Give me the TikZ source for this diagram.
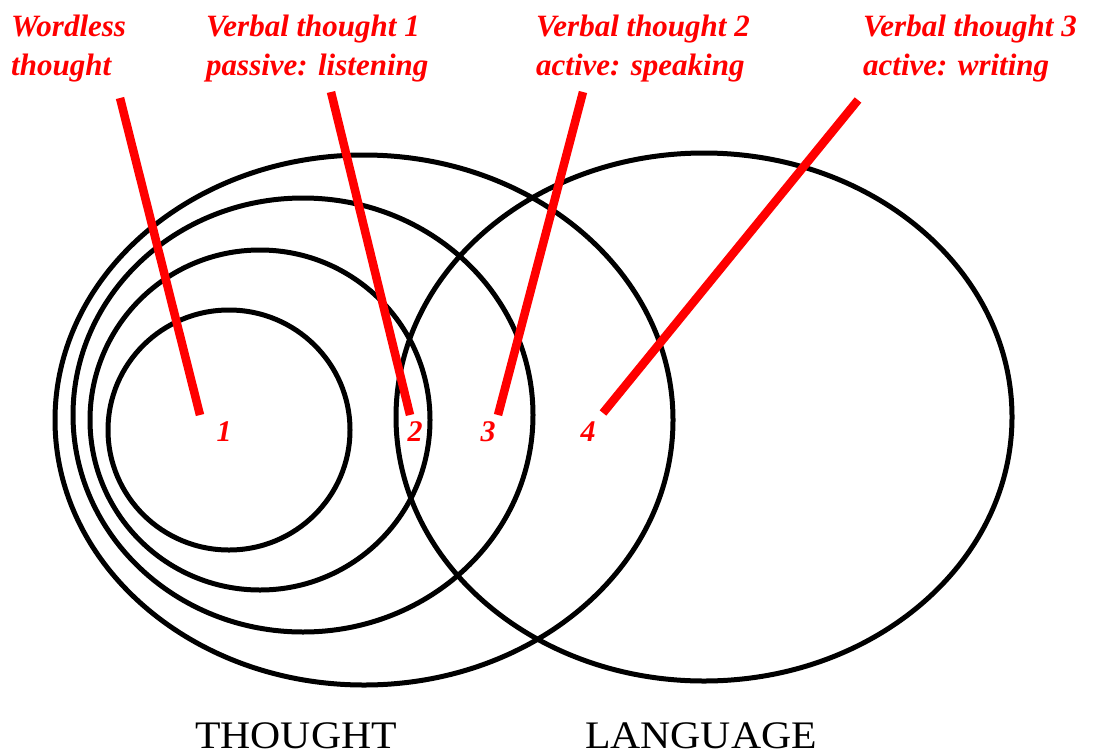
\documentclass[tikz,border=0pt]{standalone}
\usepackage{fontspec}
\setmainfont{Liberation Serif}
\begin{document}
\begin{tikzpicture}[x=1pt,y=-1pt,
  ring/.style={draw=black,line width=5pt},
  pointer/.style={draw=red,line width=8.5pt},
  toplabel/.style={text=red,inner sep=0pt,anchor=base west,align=left,
    font=\fontsize{31}{39}\selectfont\bfseries\itshape},
  numlabel/.style={text=red,inner sep=0pt,anchor=base,
    font=\fontsize{30}{36}\selectfont\bfseries\itshape},
  setlabel/.style={text=black,inner sep=0pt,anchor=base,
    font=\fontsize{39}{44}\selectfont}]
\useasboundingbox (0,0) rectangle (1099,755);
% circles
\draw[ring] (229,430) ellipse [x radius=121, y radius=120];
\draw[ring] (260,420) ellipse [x radius=170, y radius=170];
\draw[ring] (303,415) ellipse [x radius=230, y radius=217];
\draw[ring] (364,420) ellipse [x radius=309, y radius=265];
\draw[ring] (704,417) ellipse [x radius=308, y radius=264];
% labels (anchor = baseline of last line)
\node[toplabel] (wl) at (11,75) {Wordless\\thought};
\node[toplabel] (v1) at (206,75) {Verbal thought 1\\passive: listening};
\node[toplabel] (v2) at (536,75) {Verbal thought 2\\active: speaking};
\node[toplabel] (v3) at (863,75) {Verbal thought 3\\active: writing};
\node[numlabel] (n1) at (224,441) {1};
\node[numlabel] (n2) at (415,441) {2};
\node[numlabel] (n3) at (488,441) {3};
\node[numlabel] (n4) at (588,441) {4};
\node[setlabel,xscale=1.07] (th) at (296,748) {THOUGHT};
\node[setlabel,xscale=1.07] (la) at (701,748) {LANGUAGE};
% pointer ends
\coordinate (a1) at (120,98);  \coordinate (b1) at (200,415);
\coordinate (a2) at (331,92);  \coordinate (b2) at (410,415);
\coordinate (a3) at (583,92);  \coordinate (b3) at (498,415);
\coordinate (a4) at (858,100); \coordinate (b4) at (603,413);
\draw[pointer] (a1) -- (b1);
\draw[pointer] (a2) -- (b2);
\draw[pointer] (a3) -- (b3);
\draw[pointer] (a4) -- (b4);
\end{tikzpicture}
\end{document}
